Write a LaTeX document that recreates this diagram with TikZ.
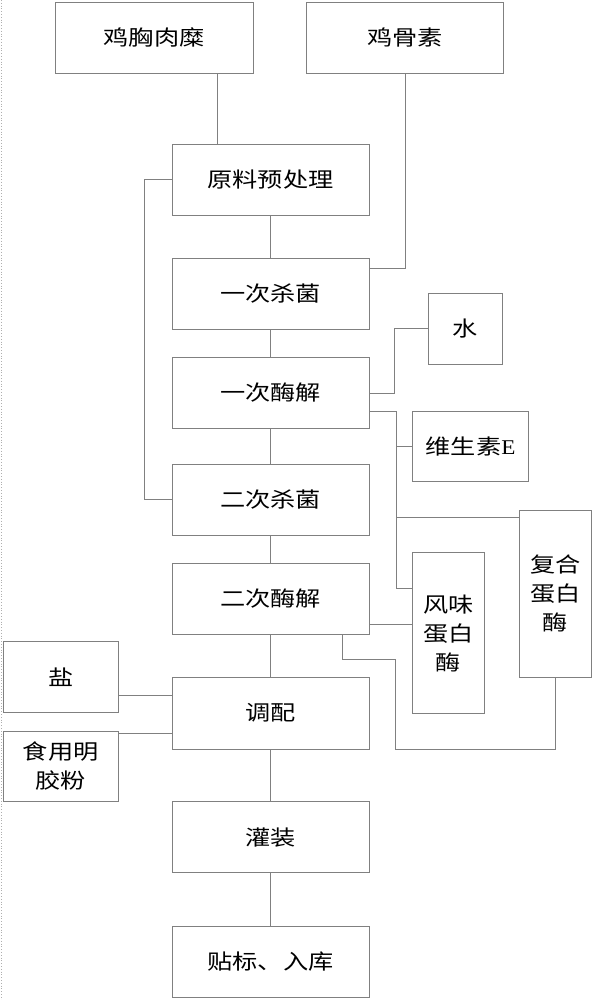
\documentclass[tikz,border=0pt]{standalone}
\usepackage{fontspec}
\newfontfamily\cjk[FakeStretch=1.2]{Noto Sans CJK SC}
\newfontfamily\lserif[FakeStretch=1.1]{Liberation Serif}
\definecolor{edge}{RGB}{128,128,128}
\definecolor{frameline}{RGB}{175,175,175}
\tikzset{
  box/.style={draw=edge, line width=0.9pt, fill=white, inner sep=0pt, align=center,
    font=\cjk\fontsize{21}{29}\selectfont, text=black},
  link/.style={draw=edge, line width=0.8pt}
}
\begin{document}
\begin{tikzpicture}[x=1pt,y=-1pt]
\useasboundingbox (0,0) rectangle (593,1000);
\fill[white] (0,0) rectangle (593,1000);
% left border line
\coordinate (bt) at (1,0);
\coordinate (bb) at (1,1000);
\draw[frameline, line width=0.8pt, dotted] (bt) -- (bb);

% main column
\node[box, minimum width=198pt, minimum height=71pt] (A) at (154,37.5) {鸡胸肉糜};
\node[box, minimum width=197.5pt, minimum height=71pt] (B) at (405,37.5) {鸡骨素};
\node[box, minimum width=197pt, minimum height=71pt] (C) at (270.5,179.5) {原料预处理};
\node[box, minimum width=197pt, minimum height=71pt] (D) at (270.5,293.5) {一次杀菌};
\node[box, minimum width=197pt, minimum height=71pt] (E) at (270.5,393) {一次酶解};
\node[box, minimum width=197pt, minimum height=71pt] (F) at (270.5,499.5) {二次杀菌};
\node[box, minimum width=197pt, minimum height=71pt] (G) at (270.5,599) {二次酶解};
\node[box, minimum width=197pt, minimum height=72pt] (H) at (270.5,713) {调配};
\node[box, minimum width=197pt, minimum height=71pt] (I) at (270.5,837.2) {灌装};
\node[box, minimum width=197pt, minimum height=71pt] (J) at (270.5,961.5) {贴标、入库};

% side boxes
\node[box, minimum width=74pt, minimum height=71pt] (K) at (465,328.5) {水};
\node[box, minimum width=115.6pt, minimum height=70.7pt] (L) at (470.5,446.3) {维生素{\lserif E}};
\node[box, minimum width=72pt, minimum height=167pt] (M) at (555.5,593.5) {复合\\蛋白\\酶};
\node[box, minimum width=71.3pt, minimum height=160.6pt] (N) at (448.3,633) {风味\\蛋白\\酶};
\node[box, minimum width=115.5pt, minimum height=71pt] (O) at (60.75,677.2) {盐};
\node[box, minimum width=115.5pt, minimum height=70.7pt] (P) at (60.75,766.3) {食用明\\胶粉};

% helper coordinates
\coordinate (a1) at (217,0);
\coordinate (yb) at (0,268);
\coordinate (v1) at (396,411);
\coordinate (v2) at (396,588.5);
\coordinate (ym) at (0,517.3);
\coordinate (g1) at (0,624);
\coordinate (m1) at (555.5,749.3);
\coordinate (m2) at (395.7,749.3);
\coordinate (m3) at (395.7,659.5);
\coordinate (m4) at (342.6,659.5);
\coordinate (s1) at (0,695);
\coordinate (s2) at (0,733.3);

% connectors
\draw[link] (A.south -| a1) -- (C.north -| a1);
\draw[link] (B.south) |- (D.east |- yb);
\draw[link] (C.south) -- (D.north);
\draw[link] (D.south) -- (E.north);
\draw[link] (E.south) -- (F.north);
\draw[link] (F.south) -- (G.north);
\draw[link] (G.south) -- (H.north);
\draw[link] (H.south) -- (I.north);
\draw[link] (I.south) -- (J.north);
\draw[link] (C.west) -- ++(-27,0) |- (F.west);
\draw[link] (E.east) -- ++(25.3,0) |- (K.west);
\draw[link] (E.east |- v1) -- (v1) -- (v2) -- (N.west |- v2);
\draw[link] (v1 |- L.west) -- (L.west);
\draw[link] (v1 |- ym) -- (M.west |- ym);
\draw[link] (G.east |- g1) -- (N.west |- g1);
\draw[link] (M.south -| m1) -- (m1) -- (m2) -- (m3) -- (m4) -- (G.south -| m4);
\draw[link] (O.east |- s1) -- (H.west |- s1);
\draw[link] (P.east |- s2) -- (H.west |- s2);
\end{tikzpicture}
\end{document}
